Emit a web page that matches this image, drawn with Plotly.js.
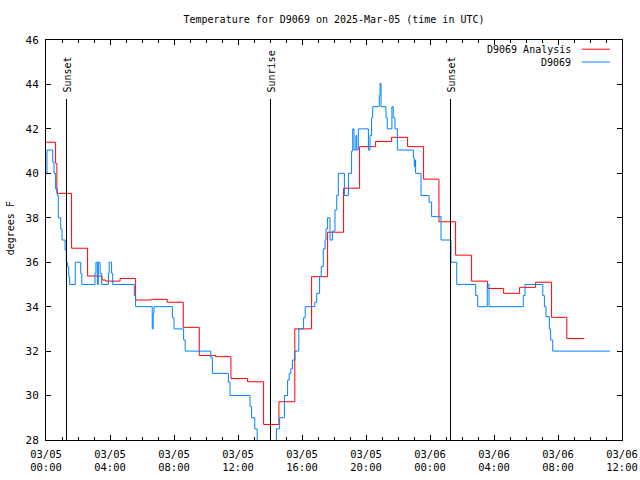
<!DOCTYPE html>
<html>
<head>
<meta charset="utf-8">
<script src="https://cdn.plot.ly/plotly-3.0.1.min.js"></script>
<style>html,body{margin:0;padding:0;background:#fff;}#chart{width:640px;height:480px;}</style>
</head>
<body>
<div id="chart"></div>
<script>
// Hours since 2025-03-05 00:00 UTC
const analysisHours = [0, 0.6, 0.68, 1.6, 2.6, 3.5, 3.73, 4.63, 5.6, 6.6, 7.58, 8.58, 9.58, 10.6, 11.56, 12.6, 13.6, 14.56, 15.55, 16.6, 17.6, 18.6, 19.6, 20.6, 21.6, 22.6, 23.6, 24.56, 25.6, 26.6, 27.6, 28.6, 29.6, 30.6, 31.6, 32.55, 33.64];
const analysisTemps = [41.4, 40.45, 39.1, 36.63, 35.38, 35.2, 35.15, 35.27, 34.3, 34.33, 34.2, 33.07, 31.8, 31.75, 30.77, 30.62, 28.7, 29.72, 33.0, 35.35, 37.35, 39.33, 41.2, 41.43, 41.62, 41.2, 39.74, 37.82, 36.32, 35.15, 34.82, 34.6, 34.87, 35.1, 33.52, 32.57, 32.57];

const obsHours = [0.00, 0.06, 0.42, 0.50, 0.60, 0.71, 0.77, 0.92, 1.00, 1.19, 1.27, 1.33, 1.42, 1.48, 1.83, 2.17, 2.24, 3.06, 3.12, 3.21, 3.27, 3.38, 3.48, 3.90, 3.95, 4.10, 4.17, 5.52, 5.60, 6.64, 6.70, 6.75, 7.90, 8.00, 8.60, 8.70, 10.30, 10.40, 11.40, 11.50, 12.75, 12.85, 13.05, 13.20, 14.40, 14.60, 14.90, 15.10, 15.20, 15.30, 15.40, 15.56, 15.80, 16.10, 16.20, 16.80, 16.92, 17.10, 17.20, 17.33, 17.44, 17.50, 17.60, 17.75, 17.90, 18.06, 18.17, 18.27, 18.65, 18.90, 19.10, 19.17, 19.25, 19.37, 19.42, 19.52, 20.15, 20.25, 20.35, 20.42, 20.83, 20.88, 20.94, 21.25, 21.33, 21.62, 21.70, 21.81, 21.96, 22.96, 23.02, 23.06, 23.10, 23.44, 23.94, 24.10, 24.69, 25.31, 25.67, 26.86, 26.98, 27.58, 27.69, 29.83, 29.94, 31.05, 31.15, 31.25, 31.46, 31.54, 31.67, 35.25];
const obsTemps = [40.0, 41.05, 40.5, 40.0, 39.3, 39.0, 38.0, 37.5, 37.0, 36.55, 36.0, 35.8, 35.35, 35.0, 36.0, 35.5, 35.0, 35.5, 36.0, 35.0, 36.0, 35.5, 35.0, 35.5, 36.0, 35.5, 35.0, 34.5, 34.0, 33.0, 33.7, 34.0, 33.5, 33.0, 32.5, 32.0, 31.7, 31.0, 30.6, 30.0, 29.5, 29.0, 28.5, 27.0, 28.5, 29.0, 30.0, 30.7, 31.0, 31.2, 31.6, 32.0, 33.0, 33.5, 34.0, 34.2, 34.6, 35.35, 35.8, 36.6, 37.0, 37.5, 38.0, 37.0, 37.4, 38.35, 39.0, 40.0, 39.0, 40.0, 41.0, 42.0, 41.05, 41.7, 41.05, 42.0, 41.05, 41.7, 42.5, 43.0, 43.5, 44.05, 43.0, 42.5, 42.0, 43.0, 42.5, 42.0, 41.05, 40.7, 40.3, 40.6, 40.0, 39.0, 38.7, 38.05, 37.0, 36.0, 35.0, 34.5, 34.0, 35.0, 34.0, 34.5, 35.0, 34.5, 34.0, 33.55, 33.0, 32.5, 32.0, 32.0];

const tickHours = [0, 4, 8, 12, 16, 20, 24, 28, 32, 36];
const tickLabels = ['03/05<br>00:00', '03/05<br>04:00', '03/05<br>08:00', '03/05<br>12:00', '03/05<br>16:00', '03/05<br>20:00', '03/06<br>00:00', '03/06<br>04:00', '03/06<br>08:00', '03/06<br>12:00'];

const sunHours = [1.28, 14.03, 25.28];
const sunLabels = ['Sunset', 'Sunrise', 'Sunset'];

const seriesNames = ['D9069 Analysis', 'D9069'];
const seriesColors = ['#ff0000', '#0080ff'];

const FONT = 'DejaVu Sans Mono';

const traces = [
  {x: analysisHours, y: analysisTemps, name: seriesNames[0], type: 'scatter', mode: 'lines',
   line: {shape: 'hv', color: seriesColors[0], width: 1}},
  {x: obsHours, y: obsTemps, name: seriesNames[1], type: 'scatter', mode: 'lines',
   line: {shape: 'hv', color: seriesColors[1], width: 1}}
];

const shapes = [];
const annotations = [];
sunHours.forEach((h, i) => {
  shapes.push({type: 'line', xref: 'x', yref: 'paper', x0: h, x1: h, y0: 0, y1: 0.8525,
               line: {color: 'black', width: 1}});
  annotations.push({text: sunLabels[i], xref: 'x', yref: 'paper', x: h, y: 0.865,
                    xanchor: 'center', yanchor: 'bottom', textangle: -90, showarrow: false,
                    xshift: 1, font: {family: FONT, size: 10, color: 'black'}});
});
// Legend (text on left, line sample on right)
const legendY = [0.977, 0.945];
seriesNames.forEach((n, i) => {
  annotations.push({text: n, xref: 'paper', yref: 'paper', x: 0.9155, y: legendY[i],
                    xanchor: 'right', yanchor: 'middle', showarrow: false,
                    font: {family: FONT, size: 10, color: 'black'}});
  shapes.push({type: 'line', xref: 'paper', yref: 'paper', x0: 0.930, x1: 0.979,
               y0: legendY[i], y1: legendY[i], line: {color: seriesColors[i], width: 1}});
});
// y axis title
annotations.push({text: 'degrees F', xref: 'paper', yref: 'paper', x: -0.062, y: 0.53,
                  xanchor: 'center', yanchor: 'middle', textangle: -90, showarrow: false,
                  font: {family: FONT, size: 10, color: 'black'}});

const layout = {
  width: 640, height: 480,
  margin: {l: 46, r: 18, t: 40, b: 40, pad: 0},
  paper_bgcolor: '#ffffff', plot_bgcolor: '#ffffff',
  font: {family: FONT, size: 10, color: 'black'},
  showlegend: false,
  title: {text: 'Temperature for D9069 on 2025-Mar-05 (time in UTC)', x: 0.5, xref: 'paper',
          y: 0.96, yref: 'container', yanchor: 'middle', font: {family: FONT, size: 10, color: 'black'}},
  xaxis: {range: [0, 36], tickmode: 'array', tickvals: tickHours, ticktext: tickLabels,
          ticks: 'inside', ticklen: 5, tickwidth: 1, tickcolor: 'black',
          showline: true, linecolor: 'black', linewidth: 1, mirror: 'ticks',
          showgrid: false, zeroline: false, fixedrange: true, ticklabelstandoff: 4,
          minor: {tickmode: 'linear', tick0: 0, dtick: 1, ticks: 'inside', ticklen: 3, tickcolor: 'black', showgrid: false},
          tickfont: {family: FONT, size: 10.5, color: 'black'}},
  yaxis: {range: [28, 46], tickmode: 'linear', tick0: 28, dtick: 2,
          ticks: 'inside', ticklen: 5, tickwidth: 1, tickcolor: 'black',
          showline: true, linecolor: 'black', linewidth: 1, mirror: 'ticks',
          showgrid: false, zeroline: false, fixedrange: true, ticklabelstandoff: 4,
          tickfont: {family: FONT, size: 11, color: 'black'}},
  shapes: shapes,
  annotations: annotations
};

Plotly.newPlot('chart', traces, layout, {staticPlot: true, displayModeBar: false});
</script>
</body>
</html>
